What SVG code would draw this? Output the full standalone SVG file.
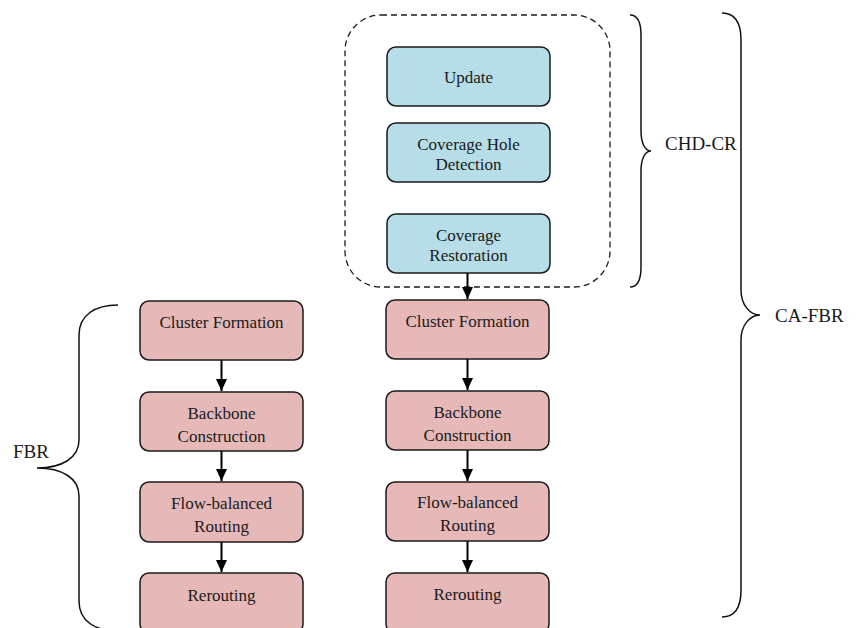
<svg xmlns="http://www.w3.org/2000/svg" width="857" height="628" viewBox="0 0 857 628">
<defs>
<style>
.box{stroke:#1a1a1a;stroke-width:1.5}
.blue{fill:#b7dee8}
.pink{fill:#e6b8b7}
.t{font-size:17px;fill:#1a1a1a;text-anchor:middle}
.lbl{font-size:19px;fill:#1a1a1a}
.brace{fill:none;stroke:#111;stroke-width:1.5}
.conn{stroke:#000;stroke-width:2;fill:none}
</style>
<marker id="ah" viewBox="0 0 12 11" refX="12" refY="5.5" markerWidth="12" markerHeight="11" orient="auto" markerUnits="userSpaceOnUse">
<path d="M0,0 L12,5.5 L0,11 z" fill="#000"/>
</marker>
</defs>
<rect x="0" y="0" width="857" height="628" fill="#fff"/>

<g font-family="Liberation Serif, Times New Roman, DejaVu Serif, serif">
<g id="chd-cr-group">
<rect x="345" y="15" width="265" height="272" rx="36" ry="36" fill="none" stroke="#1a1a1a" stroke-width="1.3" stroke-dasharray="6,4"/>
</g>

<g id="update">
<rect class="box blue" x="387" y="47" width="163" height="59" rx="9"/>
<text class="t" x="468.5" y="83">Update</text>
</g>
<g id="chd">
<rect class="box blue" x="387" y="123" width="163" height="59" rx="9"/>
<text class="t" x="468.5" y="150">Coverage Hole</text>
<text class="t" x="468.5" y="170">Detection</text>
</g>
<g id="cr">
<rect class="box blue" x="387" y="214" width="163" height="59" rx="9"/>
<text class="t" x="468.5" y="241">Coverage</text>
<text class="t" x="468.5" y="261">Restoration</text>
</g>

<g id="l-cluster">
<rect class="box pink" x="140" y="301" width="163" height="59" rx="9"/>
<text class="t" x="221.5" y="328">Cluster Formation</text>
</g>
<g id="l-backbone">
<rect class="box pink" x="140" y="392" width="163" height="59" rx="9"/>
<text class="t" x="221.5" y="419">Backbone</text>
<text class="t" x="221.5" y="442">Construction</text>
</g>
<g id="l-flow">
<rect class="box pink" x="140" y="482" width="163" height="60" rx="9"/>
<text class="t" x="221.5" y="509">Flow-balanced</text>
<text class="t" x="221.5" y="532">Routing</text>
</g>
<g id="l-rerouting">
<rect class="box pink" x="140" y="573" width="163" height="60" rx="9"/>
<text class="t" x="221.5" y="601">Rerouting</text>
</g>

<g id="r-cluster">
<rect class="box pink" x="386" y="300" width="163" height="59" rx="9"/>
<text class="t" x="467.5" y="327">Cluster Formation</text>
</g>
<g id="r-backbone">
<rect class="box pink" x="386" y="391" width="163" height="59" rx="9"/>
<text class="t" x="467.5" y="418">Backbone</text>
<text class="t" x="467.5" y="441">Construction</text>
</g>
<g id="r-flow">
<rect class="box pink" x="386" y="482" width="163" height="59" rx="9"/>
<text class="t" x="467.5" y="508">Flow-balanced</text>
<text class="t" x="467.5" y="531">Routing</text>
</g>
<g id="r-rerouting">
<rect class="box pink" x="386" y="573" width="163" height="60" rx="9"/>
<text class="t" x="467.5" y="600">Rerouting</text>
</g>

<g id="connectors">
<line class="conn" x1="221.5" y1="360" x2="221.5" y2="391" marker-end="url(#ah)"/>
<line class="conn" x1="221.5" y1="451" x2="221.5" y2="481" marker-end="url(#ah)"/>
<line class="conn" x1="221.5" y1="542" x2="221.5" y2="572" marker-end="url(#ah)"/>
<line class="conn" x1="467.5" y1="273" x2="467.5" y2="299" marker-end="url(#ah)"/>
<line class="conn" x1="467.5" y1="359" x2="467.5" y2="390" marker-end="url(#ah)"/>
<line class="conn" x1="467.5" y1="450" x2="467.5" y2="481" marker-end="url(#ah)"/>
<line class="conn" x1="467.5" y1="541" x2="467.5" y2="572" marker-end="url(#ah)"/>
</g>

<g id="fbr-brace">
<path class="brace" d="M118,305 C95,305 79,315 79,335 L79,440 C79,458 62,468 37,468 C62,468 79,478 79,496 L79,601 C79,621 95,631 118,631"/>
<text class="lbl" x="13" y="458">FBR</text>
</g>
<g id="chdcr-brace">
<path class="brace" d="M630,15 C637,15 641,20 641,35 L641,131 C641,143 645,151 651,151 C645,151 641,159 641,171 L641,267 C641,282 637,287 630,287"/>
<text class="lbl" x="665" y="150">CHD-CR</text>
</g>
<g id="cafbr-brace">
<path class="brace" d="M722,13 C735,13 741,22 741,40 L741,290 C741,305 750,315 760,315 C750,315 741,325 741,340 L741,590 C741,608 735,617 722,617"/>
<text class="lbl" x="775" y="322">CA-FBR</text>
</g>
</g>
</svg>
